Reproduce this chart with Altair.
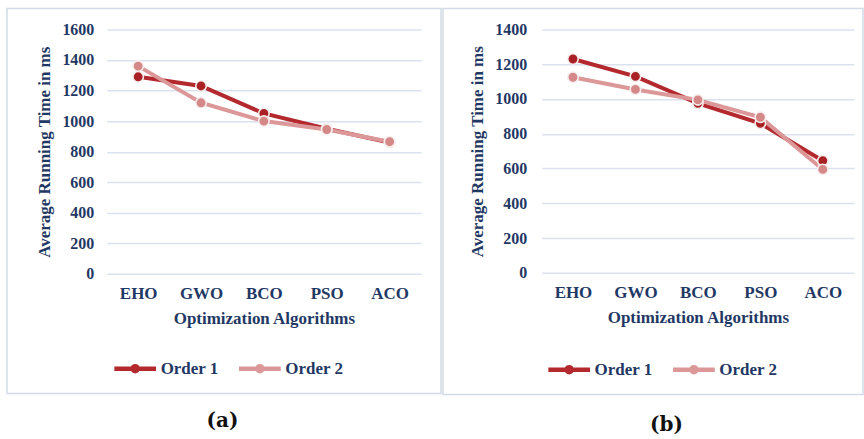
import altair as alt
import pandas as pd

# Average running time (ms) per optimization algorithm
algorithms = ["EHO", "GWO", "BCO", "PSO", "ACO"]
series_names = ["Order 1", "Order 2"]

a_order1 = [1290, 1230, 1050, 950, 860]
a_order2 = [1360, 1120, 1000, 945, 865]

b_order1 = [1230, 1130, 975, 860, 645]
b_order2 = [1125, 1055, 995, 895, 595]

line_colors = ["#b3292e", "#dc9898"]
point_colors = ["#a92025", "#d58888"]

FONT = "Liberation Serif"
TEXT = "#1f3864"
GRID = "#dbe2ef"
BORDER = "#d3dbe7"

# legend glyph: a thick line with a dot in the middle
LEGEND_GLYPH = (
    "M-1,0H1"
    "M-0.12,0a0.12,0.12 0 1,0 0.24,0a0.12,0.12 0 1,0 -0.24,0"
)


def to_frame(order1, order2):
    rows = []
    for name, vals in zip(series_names, [order1, order2]):
        for alg, v in zip(algorithms, vals):
            rows.append({"Algorithm": alg, "Series": name, "Time": v})
    return pd.DataFrame(rows)


def panel(order1, order2, ymax, w, h, caption, frame, cap_pos, legend_pos, ypad):
    df = to_frame(order1, order2)
    x = alt.X(
        "Algorithm:N",
        sort=algorithms,
        scale=alt.Scale(type="point", padding=0.5),
        axis=alt.Axis(
            title="Optimization Algorithms",
            labelAngle=0,
            labelFontSize=17,
            labelPadding=12,
            titlePadding=9,
            domain=False,
            ticks=False,
            grid=False,
        ),
    )
    y = alt.Y(
        "Time:Q",
        scale=alt.Scale(domain=[0, ymax], nice=False),
        axis=alt.Axis(
            title="Average Running Time in ms",
            values=list(range(0, ymax + 1, 200)),
            format="d",
            labelPadding=ypad,
            titlePadding=8,
            domain=False,
            ticks=False,
            grid=True,
            gridColor=GRID,
            gridWidth=1.5,
        ),
    )
    base = alt.Chart(df)
    lines = base.mark_line(strokeWidth=4).encode(
        x=x,
        y=y,
        color=alt.Color(
            "Series:N",
            sort=series_names,
            scale=alt.Scale(domain=series_names, range=line_colors),
            legend=alt.Legend(
                title=None,
                orient="none",
                direction="horizontal",
                legendX=legend_pos[0],
                legendY=legend_pos[1],
                symbolType=LEGEND_GLYPH,
                symbolSize=1750,
                symbolStrokeWidth=4.5,
                labelFont=FONT,
                labelFontWeight="bold",
                labelFontSize=17,
                labelColor=TEXT,
                labelOffset=2,
                columnPadding=10,
            ),
        ),
        detail="Series:N",
    )
    points = base.mark_point(filled=True, size=110, opacity=1).encode(
        x=x,
        y=y,
        fill=alt.Fill(
            "Series:N",
            sort=series_names,
            scale=alt.Scale(domain=series_names, range=point_colors),
            legend=None,
        ),
        stroke=alt.value("#f6eeee"),
        strokeWidth=alt.value(1.6),
        order=alt.Order("Series:N"),
    )
    one = alt.Data(values=[{"k": 1}])
    border = alt.Chart(one).mark_rect(
        fill="white", fillOpacity=0, stroke=BORDER, strokeWidth=1.5
    ).encode(
        x=alt.value(frame[0]),
        x2=alt.value(frame[1]),
        y=alt.value(frame[2]),
        y2=alt.value(frame[3]),
    )
    label = alt.Chart(one).mark_text(
        text=caption, font="DejaVu Serif", fontWeight="bold", fontSize=20, color="#111111"
    ).encode(x=alt.value(cap_pos[0]), y=alt.value(cap_pos[1]))
    return alt.layer(border, lines, points, label).properties(width=w, height=h)


left = panel(
    a_order1, a_order2, 1600, 315, 245, "(a)",
    frame=(-100, 335, -21, 365), cap_pos=(116, 392), legend_pos=(5, 316), ypad=13,
)
right = panel(
    b_order1, b_order2, 1400, 313, 244, "(b)",
    frame=(-99, 322, -21, 366), cap_pos=(125, 396), legend_pos=(4, 317), ypad=15,
)

chart = (
    alt.hconcat(left, right, spacing=0)
    .resolve_scale(color="independent", fill="independent")
    .resolve_legend(color="independent", fill="independent")
    .properties(padding={"left": 6, "top": 7, "right": 0, "bottom": 0}, background="white")
    .configure_view(stroke=None)
    .configure_axis(
        labelFont=FONT,
        labelFontWeight="bold",
        labelFontSize=16,
        labelColor=TEXT,
        titleFont=FONT,
        titleFontWeight="bold",
        titleFontSize=17,
        titleColor=TEXT,
    )
)

chart.save("out.html", embed_options={"renderer": "svg", "actions": False})
